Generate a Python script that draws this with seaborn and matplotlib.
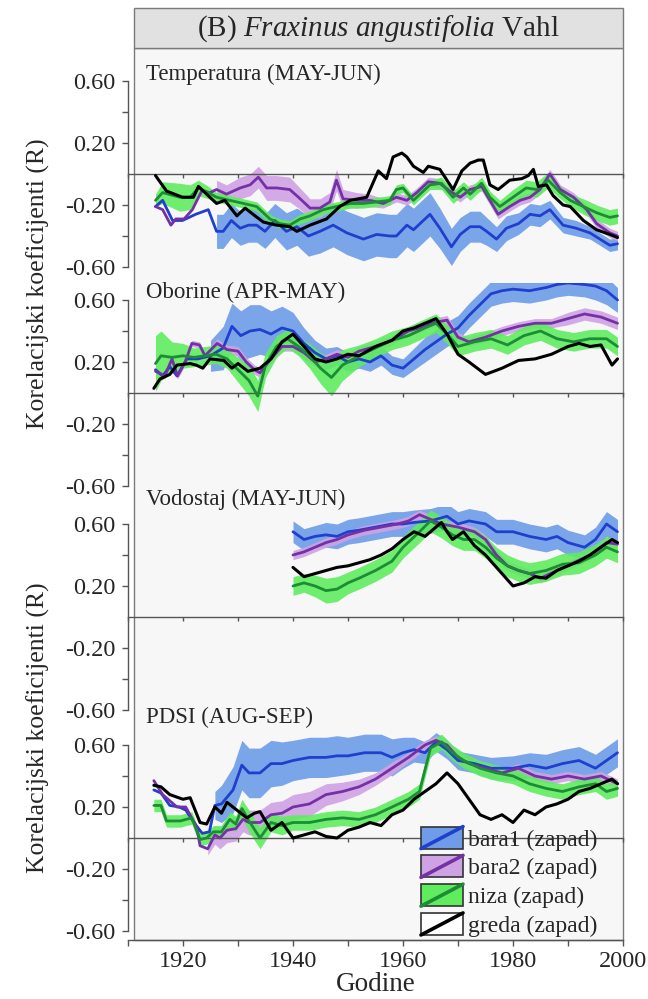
import numpy as np
import pandas as pd
import seaborn as sns
import matplotlib
matplotlib.use("Agg")
import matplotlib.pyplot as plt
from matplotlib.patches import Rectangle
from matplotlib.lines import Line2D
from matplotlib.legend_handler import HandlerBase

# ---------------- data: (year, value, band half-width) ----------------
T_BARA1 = [(1915,-0.21,0),(1916.3,-0.17,0),(1918.1,-0.30,0),(1919.9,-0.30,0),(1922.3,-0.26,0),(1924.6,-0.23,0),
           (1926.1,-0.37,0.11),(1927.3,-0.37,0.11),(1928.8,-0.30,0.11),(1930.4,-0.35,0.11),(1931.9,-0.33,0.11),
           (1933.4,-0.33,0.11),(1934.9,-0.37,0.11),(1936.7,-0.30,0.11),(1938.8,-0.37,0.12),(1940.7,-0.34,0.12),
           (1942.8,-0.40,0.13),(1944.9,-0.37,0.14),(1947.3,-0.33,0.14),(1949.8,-0.38,0.14),(1952.8,-0.42,0.14),
           (1955.2,-0.39,0.14),(1957.6,-0.40,0.14),(1958.8,-0.40,0.14),(1960.7,-0.33,0.14),(1961.9,-0.36,0.14),
           (1963.1,-0.32,0.14),(1964.9,-0.26,0.14),(1966.7,-0.35,0.13),(1968.8,-0.47,0.12),(1970.4,-0.39,0.11),
           (1972.2,-0.34,0.10),(1974.0,-0.34,0.10),(1975.2,-0.37,0.09),(1977.0,-0.42,0.08),(1978.8,-0.35,0.08),
           (1981.0,-0.32,0.07),(1983.1,-0.26,0.07),(1984.9,-0.27,0.07),(1986.7,-0.23,0.06),(1989.1,-0.33,0.05),
           (1991.5,-0.35,0.05),(1994.0,-0.38,0.04),(1995.8,-0.42,0.04),(1997.6,-0.46,0.04),(1999,-0.45,0.04)]
T_BARA2 = [(1915,-0.21,0),(1916.3,-0.23,0),(1917.8,-0.33,0),(1918.7,-0.29,0),(1920.2,-0.29,0),(1921.7,-0.23,0),
           (1923.4,-0.11,0),(1924.9,-0.12,0),(1926.1,-0.10,0.06),(1927.9,-0.13,0.06),(1930.4,-0.09,0.07),
           (1932.2,-0.07,0.07),(1933.7,-0.02,0.07),(1935.2,-0.09,0.08),(1937.0,-0.09,0.08),(1939.4,-0.10,0.08),
           (1941.0,-0.15,0.07),(1943.1,-0.22,0.06),(1944.9,-0.22,0.06),(1946.7,-0.18,0.06),(1947.9,-0.04,0.07),
           (1949.1,-0.16,0.06),(1951.6,-0.17,0.05),(1954.0,-0.17,0.04),(1956.4,-0.19,0.03),(1958.8,-0.15,0.03),
           (1960.7,-0.17,0.03),(1962.5,-0.12,0.03),(1964.6,-0.05,0.03),(1966.7,-0.06,0.03),(1968.5,-0.11,0.03),
           (1970.4,-0.15,0.03),(1972.2,-0.10,0.03),(1974.3,-0.08,0.03),(1975.8,-0.17,0.03),(1977.3,-0.26,0.03),
           (1979.4,-0.21,0.03),(1981.3,-0.17,0.03),(1983.1,-0.15,0.03),(1984.9,-0.10,0.03),(1986.7,0.00,0.03),
           (1988.6,-0.10,0.03),(1991.0,-0.15,0.03),(1993.4,-0.23,0.03),(1995.2,-0.32,0.03),(1997.6,-0.38,0.03),
           (1999,-0.40,0.03)]
T_NIZA = [(1915,-0.17,0.04),(1916.3,-0.12,0.07),(1919.4,-0.15,0.09),(1921.3,-0.15,0.08),(1922.8,-0.09,0.05),
          (1924.6,-0.12,0.04),(1926.1,-0.15,0.03),(1928.5,-0.17,0.03),(1931.0,-0.19,0.03),(1933.4,-0.21,0.03),
          (1935.8,-0.29,0.03),(1937.6,-0.32,0.03),(1939.4,-0.33,0.03),(1941.3,-0.29,0.03),(1943.1,-0.27,0.03),
          (1945.5,-0.23,0.03),(1947.9,-0.21,0.03),(1950.4,-0.19,0.03),(1952.8,-0.19,0.03),(1955.2,-0.18,0.03),
          (1957.6,-0.17,0.03),(1958.8,-0.10,0.03),(1960.0,-0.09,0.03),(1961.9,-0.17,0.03),(1963.7,-0.11,0.03),
          (1964.9,-0.07,0.03),(1967.0,-0.06,0.04),(1969.1,-0.15,0.04),(1971.0,-0.09,0.04),(1972.2,-0.13,0.04),
          (1974.3,-0.06,0.04),(1975.8,-0.15,0.04),(1977.6,-0.21,0.04),(1980.0,-0.15,0.05),(1982.4,-0.09,0.05),
          (1984.3,-0.10,0.05),(1986.4,-0.04,0.05),(1988.6,-0.12,0.04),(1990.4,-0.17,0.04),(1992.8,-0.21,0.05),
          (1995.2,-0.25,0.05),(1997.6,-0.28,0.05),(1999,-0.27,0.05)]
T_GREDA = [(1915,-0.01),(1917,-0.11),(1919.9,-0.15),(1921.9,-0.15),(1922.8,-0.08),(1924.6,-0.14),(1926.1,-0.19),
           (1927.6,-0.17),(1929.8,-0.27),(1931.3,-0.22),(1933.1,-0.27),(1934.6,-0.31),(1937.0,-0.33),(1939.4,-0.34),
           (1940.7,-0.37),(1943.1,-0.33),(1946.1,-0.29),(1948.5,-0.21),(1950.4,-0.17),(1953.4,-0.15),(1955.5,0.02),
           (1957.0,-0.03),(1958.2,0.11),(1959.8,0.135),(1960.7,0.11),(1961.9,0.05),(1963.7,0.01),(1964.6,0.05),
           (1966.7,0.03),(1969.1,-0.10),(1970.7,0.02),(1972.2,0.07),(1973.7,0.09),(1974.6,0.09),(1975.8,-0.07),
           (1977.3,-0.10),(1979.4,-0.04),(1981.6,-0.03),(1982.8,-0.01),(1983.7,0.03),(1984.6,-0.08),(1986.1,-0.07),
           (1987.3,-0.14),(1989.1,-0.20),(1990.4,-0.21),(1992.8,-0.30),(1995.2,-0.36),(1997.6,-0.39),(1999,-0.41)]

O_BARA1 = [(1915,0.15,0),(1916.3,0.11,0),(1917.6,0.17,0),(1918.9,0.11,0),(1920.7,0.22,0),(1922.7,0.22,0),
           (1925.0,0.24,0.10),(1927.3,0.29,0.14),(1928.9,0.43,0.15),(1930.5,0.37,0.16),(1932.2,0.40,0.17),
           (1934,0.41,0.16),(1936,0.38,0.15),(1938,0.42,0.14),(1940,0.40,0.12),(1942,0.32,0.10),(1944,0.26,0.08),
           (1946,0.22,0.07),(1948,0.24,0.06),(1950,0.20,0.06),(1952,0.22,0.06),(1954,0.20,0.06),(1956,0.24,0.06),
           (1958,0.18,0.06),(1960,0.16,0.06),(1962,0.22,0.07),(1964,0.28,0.08),(1966,0.33,0.08),(1968,0.38,0.08),
           (1970,0.42,0.08),(1972,0.50,0.08),(1974,0.57,0.08),(1976,0.64,0.08),(1978,0.66,0.08),(1980,0.67,0.08),
           (1983,0.66,0.08),(1986,0.68,0.08),(1988,0.70,0.08),(1990,0.71,0.08),(1993,0.70,0.08),(1995,0.69,0.09),
           (1997,0.66,0.09),(1999,0.60,0.08)]
O_BARA2 = [(1915,0.14,0.02),(1916.7,0.11,0.02),(1918,0.22,0.02),(1919,0.11,0.02),(1920.4,0.20,0.02),
           (1921.6,0.32,0.02),(1923,0.31,0.02),(1924,0.24,0.02),(1926.2,0.32,0.03),(1928,0.28,0.03),(1930,0.27,0.03),
           (1931.5,0.20,0.03),(1933,0.15,0.03),(1934,0.13,0.03),(1936,0.22,0.03),(1938,0.30,0.03),(1940,0.30,0.03),
           (1942,0.26,0.03),(1944,0.20,0.03),(1946,0.22,0.03),(1948,0.25,0.03),(1950,0.23,0.03),(1952,0.27,0.03),
           (1955,0.30,0.03),(1958,0.34,0.03),(1961,0.40,0.03),(1963,0.42,0.03),(1965,0.45,0.03),(1968,0.47,0.03),
           (1970,0.36,0.03),(1972,0.33,0.03),(1975,0.36,0.03),(1978,0.40,0.03),(1981,0.43,0.03),(1984,0.45,0.03),
           (1987,0.45,0.03),(1990,0.48,0.04),(1993,0.51,0.04),(1996,0.49,0.04),(1999,0.45,0.04)]
O_NIZA = [(1915,0.19,0.18),(1916,0.24,0.16),(1918,0.23,0.10),(1920,0.24,0.08),(1922,0.23,0.06),(1924,0.24,0.06),
          (1926,0.25,0.06),(1928,0.22,0.06),(1930,0.15,0.08),(1932,0.08,0.10),(1933.6,-0.02,0.10),(1935,0.18,0.08),
          (1937,0.30,0.07),(1939,0.35,0.06),(1941,0.30,0.06),(1943,0.24,0.08),(1945,0.16,0.10),(1947,0.10,0.12),
          (1949,0.18,0.10),(1952,0.24,0.07),(1955,0.29,0.06),(1958,0.34,0.06),(1961,0.37,0.06),(1964,0.42,0.06),
          (1966,0.45,0.06),(1968,0.38,0.06),(1970,0.30,0.06),(1973,0.33,0.06),(1976,0.35,0.06),(1979,0.31,0.06),
          (1982,0.37,0.06),(1985,0.40,0.06),(1988,0.35,0.06),(1991,0.33,0.06),(1994,0.35,0.06),(1997,0.35,0.06),
          (1999,0.30,0.06)]
O_GREDA = [(1914.7,0.03),(1915.8,0.09),(1917.6,0.12),(1918.9,0.18),(1921.3,0.19),(1922.4,0.18),(1923.6,0.16),
           (1924.9,0.22),(1927.4,0.21),(1928.9,0.16),(1930,0.19),(1931.8,0.14),(1934,0.16),(1936,0.22),(1938,0.33),
           (1940,0.38),(1942,0.30),(1944,0.22),(1946,0.20),(1948,0.22),(1950,0.25),(1952,0.24),(1955,0.30),
           (1958,0.34),(1960,0.40),(1962,0.42),(1964,0.45),(1966,0.48),(1968,0.38),(1970,0.25),(1972,0.20),
           (1975,0.12),(1978,0.16),(1981,0.21),(1984,0.22),(1987,0.25),(1990,0.30),(1992,0.32),(1994,0.30),
           (1996,0.31),(1998,0.18),(1999,0.22)]

V_BARA1 = [(1940,0.55,0.07),(1942,0.50,0.07),(1944,0.52,0.07),(1946,0.53,0.08),(1948,0.52,0.08),(1950,0.55,0.08),
           (1952,0.56,0.08),(1955,0.58,0.08),(1958,0.60,0.08),(1960,0.60,0.08),(1962,0.61,0.08),(1965,0.62,0.08),
           (1968,0.65,0.08),(1970,0.60,0.08),(1972,0.62,0.08),(1975,0.60,0.08),(1977,0.55,0.08),(1980,0.55,0.08),
           (1983,0.52,0.08),(1986,0.50,0.08),(1988,0.52,0.08),(1990,0.48,0.08),(1993,0.45,0.08),(1995,0.50,0.08),
           (1997,0.60,0.08),(1999,0.55,0.08)]
V_BARA2 = [(1940,0.40,0.03),(1942,0.42,0.03),(1944,0.45,0.03),(1946,0.48,0.03),(1948,0.50,0.03),(1950,0.53,0.03),
           (1953,0.56,0.03),(1956,0.58,0.03),(1959,0.60,0.03),(1961,0.62,0.03),(1963,0.66,0.03),(1965,0.63,0.03),
           (1967,0.60,0.03),(1970,0.58,0.03),(1973,0.55,0.03),(1975,0.50,0.03),(1977,0.40,0.03),(1979,0.33,0.03),
           (1981,0.30,0.03),(1983,0.28,0.03),(1985,0.25,0.03),(1988,0.30,0.03),(1991,0.35,0.03),(1994,0.40,0.03),
           (1997,0.48,0.03),(1999,0.47,0.03)]
V_NIZA = [(1940,0.20,0.06),(1942,0.22,0.06),(1944,0.20,0.07),(1946,0.17,0.08),(1948,0.18,0.08),(1950,0.22,0.07),
          (1952,0.25,0.07),(1955,0.30,0.07),(1958,0.36,0.07),(1960,0.45,0.07),(1963,0.55,0.07),(1965,0.62,0.07),
          (1967,0.58,0.07),(1969,0.53,0.07),(1971,0.50,0.07),(1973,0.50,0.07),(1975,0.45,0.07),(1977,0.38,0.07),
          (1979,0.33,0.07),(1981,0.30,0.07),(1983,0.28,0.07),(1986,0.30,0.07),(1989,0.34,0.07),(1992,0.35,0.07),
          (1995,0.40,0.07),(1997,0.45,0.07),(1999,0.42,0.07)]
V_GREDA = [(1940,0.32),(1942,0.26),(1944,0.28),(1946,0.30),(1948,0.32),(1950,0.33),(1952,0.35),(1954,0.37),
           (1956,0.40),(1958,0.44),(1960,0.50),(1962,0.55),(1964,0.52),(1966,0.58),(1967,0.61),(1968,0.55),
           (1969,0.50),(1971,0.55),(1973,0.46),(1975,0.40),(1977,0.32),(1979,0.24),(1980,0.20),(1982,0.22),
           (1984,0.26),(1986,0.25),(1988,0.30),(1990,0.33),(1992,0.36),(1994,0.40),(1996,0.45),(1998,0.50),
           (1999,0.48)]

P_BARA1 = [(1914.7,0.31,0),(1916,0.29,0),(1917.6,0.21,0),(1919.3,0.20,0),(1920.5,0.18,0),(1922.2,0.09,0),
           (1923.5,0.03,0),(1924.8,0.04,0),(1925.8,0.21,0.09),(1927,0.22,0.12),(1929.1,0.31,0.15),
           (1930.7,0.47,0.16),(1932,0.42,0.16),(1934,0.42,0.16),(1936,0.48,0.15),(1938,0.48,0.14),(1940,0.50,0.13),
           (1943,0.52,0.13),(1946,0.52,0.13),(1948,0.53,0.13),(1950,0.53,0.12),(1953,0.55,0.12),(1956,0.55,0.12),
           (1958,0.52,0.12),(1960,0.55,0.10),(1962,0.57,0.08),(1964,0.55,0.07),(1966,0.62,0.06),(1968,0.57,0.06),
           (1970,0.50,0.06),(1973,0.48,0.06),(1976,0.45,0.07),(1980,0.45,0.08),(1983,0.47,0.08),(1986,0.45,0.09),
           (1989,0.48,0.09),(1992,0.50,0.09),(1995,0.45,0.09),(1997,0.50,0.09),(1999,0.55,0.09)]
P_BARA2 = [(1914.7,0.37,0),(1916.3,0.28,0),(1918.9,0.20,0),(1920.5,0.20,0),(1922.5,0.07,0),(1923.1,-0.05,0),
           (1924.5,-0.07,0.04),(1925.8,0.02,0.06),(1926.7,0.00,0.07),(1928,0.05,0.08),(1929.6,0.06,0.08),
           (1930.9,0.12,0.08),(1932,0.10,0.08),(1934,0.10,0.08),(1936,0.15,0.08),(1938,0.16,0.08),(1940,0.20,0.08),
           (1943,0.22,0.08),(1946,0.28,0.07),(1949,0.30,0.06),(1952,0.33,0.05),(1955,0.38,0.04),(1958,0.45,0.04),
           (1961,0.52,0.03),(1964,0.60,0.03),(1966,0.63,0.03),(1968,0.60,0.03),(1970,0.52,0.03),(1972,0.48,0.03),
           (1975,0.45,0.03),(1978,0.42,0.03),(1981,0.45,0.03),(1984,0.40,0.03),(1987,0.38,0.03),(1990,0.40,0.03),
           (1993,0.38,0.03),(1996,0.40,0.03),(1999,0.35,0.03)]
P_NIZA = [(1914.7,0.21,0.04),(1916,0.21,0.04),(1917,0.11,0.04),(1919.5,0.11,0.04),(1921.6,0.13,0.04),
          (1923.1,-0.01,0.04),(1924.3,0.00,0.04),(1925.5,0.04,0.04),(1927,0.04,0.04),(1928.5,0.12,0.05),
          (1929.6,0.09,0.05),(1930.7,0.19,0.06),(1932,0.11,0.07),(1934,0.00,0.07),(1936,0.10,0.06),(1938,0.08,0.06),
          (1940,0.10,0.05),(1943,0.10,0.05),(1946,0.12,0.05),(1949,0.13,0.05),(1952,0.12,0.05),(1955,0.15,0.05),
          (1958,0.20,0.05),(1961,0.25,0.05),(1963,0.30,0.05),(1965,0.58,0.05),(1967,0.62,0.05),(1969,0.55,0.05),
          (1971,0.50,0.05),(1974,0.45,0.05),(1977,0.42,0.05),(1980,0.40,0.05),(1983,0.35,0.05),(1986,0.32,0.05),
          (1989,0.30,0.05),(1992,0.33,0.05),(1995,0.35,0.05),(1997,0.30,0.05),(1999,0.32,0.05)]
P_GREDA = [(1914.7,0.34),(1916,0.33),(1917.6,0.28),(1920,0.25),(1921.3,0.26),(1923.1,0.10),(1924.3,0.09),
           (1925.8,0.20),(1927,0.16),(1928,0.23),(1929.8,0.18),(1931.6,0.13),(1933,0.16),(1934,0.17),(1936,0.05),
           (1938,0.10),(1940,0.00),(1942,0.02),(1944,0.04),(1946,0.01),(1948,0.00),(1950,0.05),(1952,0.07),
           (1954,0.10),(1956,0.08),(1958,0.15),(1960,0.18),(1962,0.25),(1964,0.30),(1966,0.35),(1968,0.42),
           (1970,0.35),(1972,0.25),(1974,0.15),(1976,0.12),(1978,0.15),(1980,0.10),(1982,0.18),(1984,0.15),
           (1986,0.20),(1988,0.22),(1990,0.25),(1992,0.30),(1994,0.32),(1996,0.35),(1998,0.38),(1999,0.35)]

PANEL_TITLES = ["Temperatura (MAY-JUN)", "Oborine (APR-MAY)", "Vodostaj (MAY-JUN)", "PDSI (AUG-SEP)"]
SERIES_NAMES = ["bara1 (zapad)", "bara2 (zapad)", "niza (zapad)", "greda (zapad)"]
Y_TICKS = [-0.6, -0.2, 0.2, 0.6]
Y_TICK_LABELS = ["-0.60", "-0.20", "0.20", "0.60"]
X_TICKS = [1920, 1940, 1960, 1980, 2000]
HEADER = r"(B) $\mathit{Fraxinus\ angustifolia}$ Vahl"
Y_LABEL = "Korelacijski koeficijenti (R)"
X_LABEL = "Godine"

PANELS = [(T_BARA1, T_BARA2, T_NIZA, T_GREDA),
          (O_BARA1, O_BARA2, O_NIZA, O_GREDA),
          (V_BARA1, V_BARA2, V_NIZA, V_GREDA),
          (P_BARA1, P_BARA2, P_NIZA, P_GREDA)]

# ---------------- style ----------------
LINE_COLORS = ["#1f3fcf", "#7431a6", "#1c8c35", "#000000"]
BAND_COLORS = ["#6e9ce8", "#cfa2e3", "#5fec5f", "#ffffff"]

sns.set_theme(style="white")
plt.rcParams["font.family"] = ["Liberation Serif", "DejaVu Serif"]
plt.rcParams["mathtext.fontset"] = "custom"
plt.rcParams["mathtext.rm"] = "Liberation Serif"
plt.rcParams["mathtext.it"] = "Liberation Serif:italic"

W, H = 648, 999
fig = plt.figure(figsize=(W / 100, H / 100), dpi=100)
fig.patch.set_facecolor("white")


def fx(x):
    return x / W


def fy(y):
    return 1 - y / H


X_LEFT, X_RIGHT = 128, 623       # pixel positions of 1910 and 2000
BOX_L, BOX_T, BOX_B = 134, 48, 940
SPINE_C = "#555555"

# background box and header strip
fig.add_artist(Rectangle((fx(BOX_L), fy(BOX_B)), fx(X_RIGHT) - fx(BOX_L), fy(BOX_T) - fy(BOX_B),
                         transform=fig.transFigure, facecolor="#f7f7f7", edgecolor="#7a7a7a",
                         lw=1.0, zorder=-2))
fig.add_artist(Rectangle((fx(BOX_L), fy(BOX_T)), fx(X_RIGHT) - fx(BOX_L), fy(8) - fy(BOX_T),
                         transform=fig.transFigure, facecolor="#e1e1e1", edgecolor="#7a7a7a",
                         lw=1.0, zorder=-2))
fig.text(fx((BOX_L + X_RIGHT) / 2), fy(29), HEADER, ha="center", va="center", fontsize=21)

ZEROS = [174, 393, 617, 838]
SCALE = 155.0
HALF = 110
TITLE_BASE = [80, 298, 505, 723]

for i, (series, z) in enumerate(zip(PANELS, ZEROS)):
    ax = fig.add_axes([fx(X_LEFT), fy(z + HALF), fx(X_RIGHT) - fx(X_LEFT), 2 * HALF / H])
    ax.set_xlim(1910, 2000)
    ax.set_ylim(-HALF / SCALE, HALF / SCALE)
    ax.patch.set_visible(False)
    for s in ["top", "right"]:
        ax.spines[s].set_visible(False)
    ax.spines["left"].set_bounds(-0.6, 0.6)
    ax.spines["left"].set_color(SPINE_C)
    ax.spines["left"].set_linewidth(1.0)
    ax.spines["bottom"].set_position(("data", 0))
    ax.spines["bottom"].set_color(SPINE_C)
    ax.spines["bottom"].set_linewidth(1.0)
    ax.set_yticks(Y_TICKS)
    ax.set_yticklabels(Y_TICK_LABELS)
    ax.set_yticks([-0.4, 0.4], minor=True)
    ax.set_xticks(list(range(1910, 2001, 10)))
    ax.set_xticklabels([])
    ax.tick_params(axis="y", which="both", direction="out", length=4, width=1.0, color=SPINE_C,
                   labelsize=17.5, pad=5, left=True)
    ax.tick_params(axis="x", which="both", direction="out", length=3, width=1.0, color=SPINE_C,
                   bottom=True)
    ax.set_xlabel("")
    ax.set_ylabel("")

    # bands first
    for k in range(3):
        arr = np.array(series[k], dtype=float)
        yrs, val, hw = arr[:, 0], arr[:, 1], arr[:, 2]
        ax.fill_between(yrs, val - hw, val + hw, where=hw > 0, color=BAND_COLORS[k],
                        alpha=0.9, lw=0, zorder=1)
    # lines
    for k in range(4):
        arr = np.array(series[k], dtype=float)
        df = pd.DataFrame({"year": arr[:, 0], "r": arr[:, 1]})
        sns.lineplot(data=df, x="year", y="r", ax=ax, color=LINE_COLORS[k], lw=2.0 if k < 3 else 2.2,
                     estimator=None, sort=False, zorder=3 + k)
    ax.set_xlabel("")
    ax.set_ylabel("")
    fig.text(fx(146), fy(TITLE_BASE[i]), PANEL_TITLES[i], ha="left", va="baseline", fontsize=16.5)

# y labels
fig.text(fx(38), fy((ZEROS[0] + ZEROS[1]) / 2), Y_LABEL, rotation=90, ha="center", va="center", fontsize=18.5)
fig.text(fx(38), fy((ZEROS[2] + ZEROS[3]) / 2), Y_LABEL, rotation=90, ha="center", va="center", fontsize=18.5)

# bottom x axis
axx = fig.add_axes([fx(X_LEFT), fy(BOX_B), fx(X_RIGHT) - fx(X_LEFT), 0.0001])
axx.set_xlim(1910, 2000)
axx.patch.set_visible(False)
for s in ["top", "right", "left"]:
    axx.spines[s].set_visible(False)
axx.spines["bottom"].set_color(SPINE_C)
axx.spines["bottom"].set_linewidth(1.0)
axx.set_yticks([])
axx.set_xticks(X_TICKS)
axx.set_xticklabels([str(t) for t in X_TICKS])
axx.set_xticks(list(range(1910, 2000, 20)), minor=True)
axx.tick_params(axis="x", which="both", direction="out", length=4, width=1.0, color=SPINE_C,
                labelsize=17.5, pad=4, bottom=True)
axx.set_xlabel(X_LABEL, fontsize=19.5, labelpad=0)


# legend with band + diagonal line handles
class BandHandler(HandlerBase):
    def __init__(self, fc, lc):
        super().__init__()
        self.fc, self.lc = fc, lc

    def create_artists(self, legend, orig_handle, xdescent, ydescent, width, height, fontsize, trans):
        r = Rectangle((-xdescent, -ydescent), width, height, facecolor=self.fc, edgecolor="#333333",
                      lw=1.2, transform=trans)
        ln = Line2D([-xdescent, -xdescent + width], [-ydescent, -ydescent + height], color=self.lc,
                    lw=2.6, transform=trans)
        return [r, ln]


proxies = [Rectangle((0, 0), 1, 1) for _ in SERIES_NAMES]
hmap = {p: BandHandler(BAND_COLORS[k], LINE_COLORS[k]) for k, p in enumerate(proxies)}
FS = 17
px_per_fs = FS * 100 / 72
fig.legend(proxies, SERIES_NAMES, handler_map=hmap, loc="lower left",
           bbox_to_anchor=(fx(421), fy(937)), bbox_transform=fig.transFigure, frameon=False,
           borderpad=0, borderaxespad=0, fontsize=FS, handlelength=42 / px_per_fs,
           handleheight=25 / px_per_fs, handletextpad=5 / px_per_fs, labelspacing=0.2)

fig.savefig("out.png", dpi=100)
